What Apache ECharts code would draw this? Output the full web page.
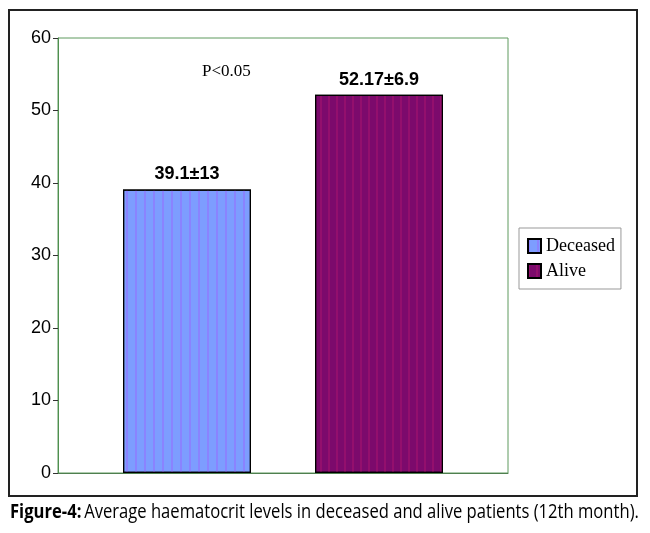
<!DOCTYPE html>
<html>
<head>
<meta charset="utf-8">
<script src="https://cdn.jsdelivr.net/npm/echarts@6/dist/echarts.min.js"></script>
<style>
  html, body { margin: 0; padding: 0; background: #fff; }
  #main { width: 650px; height: 533px; }
</style>
</head>
<body>
<div id="main"></div>
<script type="text/javascript">
    // chart data
    var categories = [''];
    var seriesNames = ['Deceased', 'Alive'];
    var deceased = [39.1];
    var alive = [52.17];
    var barLabels = ['39.1\u00b113', '52.17\u00b16.9'];
    var yTicks = { min: 0, max: 60, interval: 10 };

    var myChart = echarts.init(document.getElementById('main'));

    var labelStyle = {
        show: true,
        position: 'top',
        distance: 6,
        color: '#000',
        fontFamily: 'Arial, Liberation Sans, sans-serif',
        fontWeight: 'bold',
        fontSize: 18
    };

    option = {
        animation: false,
        backgroundColor: '#fff',
        grid: {
            left: 58,
            top: 38,
            width: 450,
            height: 435,
            show: true,
            borderColor: '#5f9a5f',
            borderWidth: 1
        },
        legend: {
            data: seriesNames,
            orient: 'vertical',
            left: 519,
            top: 228,
            itemWidth: 13,
            itemHeight: 14,
            itemGap: 7,
            padding: [9, 6, 9, 8],
            borderColor: '#999',
            borderWidth: 1,
            icon: 'rect',
            textStyle: {
                fontFamily: 'Liberation Serif, Times New Roman, serif',
                fontSize: 18,
                color: '#000'
            }
        },
        xAxis: {
            type: 'category',
            data: categories,
            axisLine: { lineStyle: { color: '#4f7f4f', width: 1 } },
            axisTick: { show: false },
            axisLabel: { show: false }
        },
        yAxis: {
            type: 'value',
            min: yTicks.min,
            max: yTicks.max,
            interval: yTicks.interval,
            axisLine: { show: true, lineStyle: { color: '#4f8f4f', width: 1 } },
            axisTick: { show: true, length: 5, lineStyle: { color: '#333' } },
            splitLine: { show: false },
            axisLabel: {
                color: '#000',
                fontFamily: 'Arial, Liberation Sans, sans-serif',
                fontSize: 18,
                margin: 7
            }
        },
        series: [
            {
                name: seriesNames[0],
                type: 'bar',
                data: deceased,
                barWidth: 128,
                barGap: '50%',
                itemStyle: {
                    color: '#7d9dff',
                    borderColor: '#000',
                    borderWidth: 1.2,
                    decal: {
                        symbol: 'rect',
                        color: 'rgba(150,110,255,0.55)',
                        dashArrayX: [2, 7],
                        dashArrayY: [1, 0],
                        symbolSize: 1
                    }
                },
                label: Object.assign({ formatter: barLabels[0] }, labelStyle)
            },
            {
                name: seriesNames[1],
                type: 'bar',
                data: alive,
                barWidth: 128,
                barGap: '50%',
                itemStyle: {
                    color: '#7c0a6c',
                    borderColor: '#000',
                    borderWidth: 1.2,
                    decal: {
                        symbol: 'rect',
                        color: 'rgba(170,20,110,0.5)',
                        dashArrayX: [2, 6],
                        dashArrayY: [1, 0],
                        symbolSize: 1
                    }
                },
                label: Object.assign({ formatter: barLabels[1] }, labelStyle)
            }
        ],
        graphic: [
            {
                type: 'rect',
                shape: { x: 9, y: 10, width: 628, height: 486 },
                style: { fill: 'none', stroke: '#222', lineWidth: 2 },
                silent: true
            },
            {
                type: 'text',
                left: 202,
                top: 63,
                style: {
                    text: 'P<0.05',
                    fill: '#000',
                    font: '17px "Liberation Serif", "Times New Roman", serif'
                }
            },
            {
                type: 'text',
                x: 10,
                y: 502,
                scaleX: 0.83,
                style: {
                    text: '{b|Figure-4:} {n|Average haematocrit levels in deceased and alive patients (12th month).}',
                    rich: {
                        b: {
                            fontFamily: '"Open Sans", sans-serif',
                            fontWeight: 'bold',
                            fontSize: 20,
                            fill: '#000'
                        },
                        n: {
                            fontFamily: '"Open Sans", sans-serif',
                            fontSize: 20,
                            fill: '#000'
                        }
                    }
                }
            }
        ]
    };

    myChart.setOption(option);
</script>
</body>
</html>
